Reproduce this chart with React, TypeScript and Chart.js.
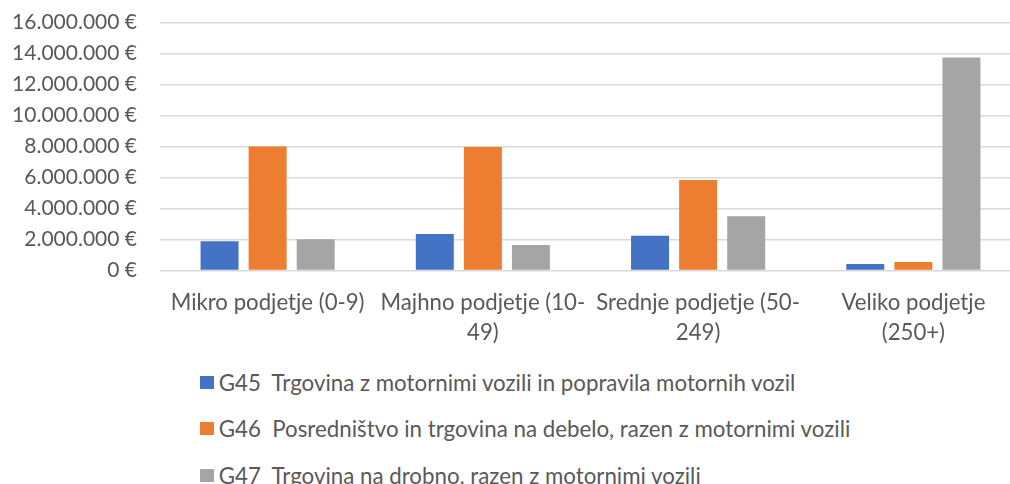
import React, { useEffect, useRef } from "react";
import { Chart, registerables } from "chart.js";

Chart.register(...registerables);

const categories: (string | string[])[] = [
  "Mikro podjetje (0-9)",
  ["Majhno podjetje (10-", "49)"],
  ["Srednje podjetje (50-", "249)"],
  ["Veliko podjetje", "(250+)"],
];

const seriesNames = [
  "G45  Trgovina z motornimi vozili in popravila motornih vozil",
  "G46  Posredništvo in trgovina na debelo, razen z motornimi vozili",
  "G47  Trgovina na drobno, razen z motornimi vozili",
];

const g45Values = [1880000, 2350000, 2240000, 420000];
const g46Values = [8000000, 7970000, 5840000, 550000];
const g47Values = [2020000, 1640000, 3500000, 13750000];

const seriesColors = ["#4472C4", "#ED7D31", "#A5A5A5"];

const yMin = 0;
const yMax = 16000000;
const yStep = 2000000;

const FONT = "Lato";
const TEXT = "#595959";

function formatEuro(v: number): string {
  return String(Math.round(v)).replace(/\B(?=(\d{3})+(?!\d))/g, ".") + " €";
}

export default function App() {
  const canvasRef = useRef<HTMLCanvasElement | null>(null);

  useEffect(() => {
    if (!canvasRef.current) return;
    const values = [g45Values, g46Values, g47Values];
    const chart = new Chart(canvasRef.current, {
      type: "bar",
      data: {
        labels: categories,
        datasets: seriesNames.map((name, i) => ({
          label: name,
          data: values[i],
          backgroundColor: seriesColors[i],
          borderWidth: 0,
          barPercentage: 0.79,
          categoryPercentage: 0.67,
        })),
      },
      options: {
        responsive: false,
        animation: false,
        devicePixelRatio: 1,
        layout: { padding: { top: 11, left: 0, right: 0, bottom: 0 } },
        plugins: {
          legend: { display: false },
          tooltip: { enabled: false },
        },
        scales: {
          x: {
            grid: { display: false },
            border: { display: false },
            ticks: {
              color: TEXT,
              font: { family: FONT, size: 22.2, lineHeight: 30 / 22.2 },
              padding: 9,
              maxRotation: 0,
              autoSkip: false,
            },
            afterFit: (scale: any) => {
              scale.height = 89.5;
            },
          },
          y: {
            min: yMin,
            max: yMax,
            border: { display: false },
            grid: { color: "#d9d9d9", lineWidth: 1.6, drawTicks: false },
            ticks: {
              stepSize: yStep,
              color: TEXT,
              padding: 23,
              font: { family: FONT, size: 21 },
              callback: (v: any) => formatEuro(Number(v)),
            },
            afterFit: (scale: any) => {
              scale.width = 160;
            },
          },
        },
      },
    });
    return () => chart.destroy();
  }, []);

  return (
    <div
      style={{
        position: "fixed",
        left: 0,
        top: 0,
        width: 1010,
        height: 484,
        overflow: "hidden",
        background: "#ffffff",
      }}
    >
      <canvas
        ref={canvasRef}
        width={1021}
        height={373}
        style={{ position: "absolute", left: 0, top: -13, width: 1021, height: 373 }}
      />
      {seriesNames.map((name, i) => (
        <div
          key={name}
          style={{
            position: "absolute",
            left: 200,
            top: 367 + i * 46.5,
            height: 30,
            display: "flex",
            alignItems: "center",
            fontFamily: FONT,
            fontSize: 22.3,
            color: TEXT,
            whiteSpace: "pre",
          }}
        >
          <span
            style={{
              display: "inline-block",
              width: 14,
              height: 13,
              background: seriesColors[i],
              marginRight: 4.7,
            }}
          />
          <span>{name}</span>
        </div>
      ))}
    </div>
  );
}
